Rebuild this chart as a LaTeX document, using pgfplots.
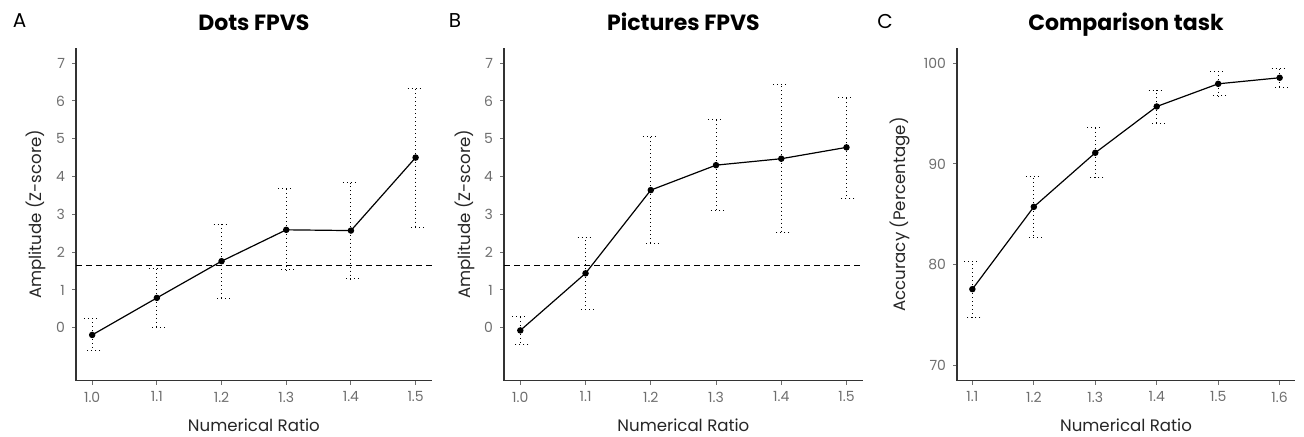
\documentclass[border=0pt]{standalone}
\usepackage{pgfplots}
\pgfplotsset{compat=1.18}
\usepackage{pgfplotstable}
\usepackage{fontspec}
\setmainfont{Poppins}
\definecolor{tickgrey}{HTML}{6E6E6E}
\definecolor{axisgrey}{HTML}{333333}

% x  y  ep  em  (ep/em = distance to upper/lower end of the error bar)
\pgfplotstableread{
x    y      ep    em
1.0  -0.19  0.44  0.40
1.1  0.79   0.78  0.77
1.2  1.76   0.98  0.99
1.3  2.59   1.08  1.06
1.4  2.57   1.27  1.28
1.5  4.50   1.83  1.85
}\dotsdata
\pgfplotstableread{
x    y      ep    em
1.0  -0.07  0.36  0.36
1.1  1.44   0.95  0.95
1.2  3.64   1.41  1.42
1.3  4.30   1.21  1.21
1.4  4.47   1.97  1.96
1.5  4.77   1.33  1.34
}\picsdata
\pgfplotstableread{
x    y      ep    em
1.1  77.58  2.74  2.78
1.2  85.74  3.01  3.00
1.3  91.10  2.51  2.45
1.4  95.69  1.61  1.65
1.5  97.94  1.23  1.20
1.6  98.54  0.96  0.99
}\compdata

\pgfplotsset{
  panel/.style={
    scale only axis,
    anchor=south west,
    axis lines=left,
    axis line style={-, axisgrey, line width=0.7pt},
    tick align=outside,
    major tick length=2pt,
    tick style={tickgrey, line width=0.5pt},
    ticklabel style={font=\fontsize{7}{8}\selectfont, text=tickgrey},
    /pgf/number format/assume math mode=true,
    title style={at={(0.5,1)}, anchor=base, yshift=2.8pt,
      font=\bfseries\fontsize{11}{12}\selectfont},
    label style={font=\fontsize{8.3}{9}\selectfont, text=black!85},
    xlabel style={at={(0.5,0)}, anchor=base, yshift=-25.5pt},
    xlabel={Numerical Ratio},
    clip=false,
  },
  errline/.style={
    black, line width=0.6pt, mark=*, mark size=1.3pt,
    error bars/.cd, y dir=both, y explicit,
    error bar style={line width=0.5pt, dash pattern=on 0.5pt off 1.5pt},
    error mark options={rotate=90, line width=0.5pt, dash pattern=on 0.5pt off 1.5pt, mark size=4pt},
  },
}

\begin{document}
\begin{tikzpicture}
\path[use as bounding box] (0,0) rectangle (652pt,218pt);

\node[font=\fontsize{10}{11}\selectfont] at (9.8pt,207.5pt) {A};
\node[font=\fontsize{10}{11}\selectfont] at (227.5pt,207.5pt) {B};
\node[font=\fontsize{10}{11}\selectfont] at (442.5pt,207.5pt) {C};

\begin{axis}[panel, at={(38pt,27.65pt)}, width=177.9pt, height=166.4pt,
  xmin=0.975, xmax=1.525, ymin=-1.4, ymax=7.4,
  xtick={1.0,1.1,1.2,1.3,1.4,1.5}, xticklabels={1.0,1.1,1.2,1.3,1.4,1.5},
  ytick={0,1,2,3,4,5,6,7},
  title={Dots FPVS}, ylabel={Amplitude (Z-score)},
  ylabel style={at={([xshift=-17.2pt]axis description cs:0,0.5)}, anchor=base}]
\addplot[black, line width=0.6pt, dash pattern=on 3pt off 2pt] coordinates {(0.975,1.64) (1.525,1.64)};
\addplot[errline] table[x=x, y=y, y error plus=ep, y error minus=em] {\dotsdata};
\end{axis}

\begin{axis}[panel, at={(252pt,27.65pt)}, width=179.4pt, height=166.4pt,
  xmin=0.975, xmax=1.525, ymin=-1.4, ymax=7.4,
  xtick={1.0,1.1,1.2,1.3,1.4,1.5}, xticklabels={1.0,1.1,1.2,1.3,1.4,1.5},
  ytick={0,1,2,3,4,5,6,7},
  title={Pictures FPVS}, ylabel={Amplitude (Z-score)},
  ylabel style={at={([xshift=-17pt]axis description cs:0,0.5)}, anchor=base}]
\addplot[black, line width=0.6pt, dash pattern=on 3pt off 2pt] coordinates {(0.975,1.64) (1.525,1.64)};
\addplot[errline] table[x=x, y=y, y error plus=ep, y error minus=em] {\picsdata};
\end{axis}

\begin{axis}[panel, at={(478.5pt,27.65pt)}, width=169pt, height=166.4pt,
  xmin=1.075, xmax=1.625, ymin=68.5, ymax=101.5,
  xtick={1.1,1.2,1.3,1.4,1.5,1.6}, xticklabels={1.1,1.2,1.3,1.4,1.5,1.6},
  ytick={70,80,90,100},
  title={Comparison task}, ylabel={Accuracy (Percentage)},
  ylabel style={at={([xshift=-26pt]axis description cs:0,0.5)}, anchor=base}]
\addplot[errline] table[x=x, y=y, y error plus=ep, y error minus=em] {\compdata};
\end{axis}
\end{tikzpicture}
\end{document}
